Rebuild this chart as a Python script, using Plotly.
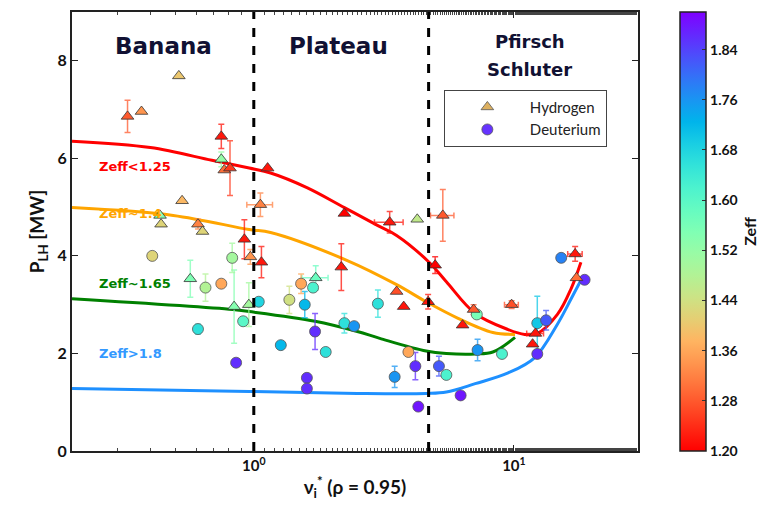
import math
import plotly.graph_objects as go

# ---------------- data ----------------
# Hydrogen (triangles): nu*, P_LH, Zeff, xerr, yerr
h_x = [0.515, 0.327, 0.37, 0.75, 0.75, 0.77, 0.81, 1.13, 0.53, 1.06, 0.436, 0.44, 0.61, 0.635, 0.92, 0.97, 1.07,
       0.57, 0.84, 0.957, 2.23, 3.33, 4.25, 5.33, 2.17, 3.54, 4.98, 3.77, 4.68, 6.35, 7.0, 9.8, 12.1, 11.8, 17.2,
       17.4, 1.73]
h_y = [7.69, 6.86, 6.96, 6.45, 5.98, 5.76, 5.80, 5.80, 5.13, 5.05, 4.83, 4.65, 4.65, 4.50, 4.34, 3.98, 3.87,
       3.53, 2.96, 3.00, 4.87, 4.69, 4.75, 4.83, 3.77, 3.27, 3.81, 2.96, 3.06, 2.58, 2.90, 3.00, 2.41, 2.19, 4.04,
       3.55, 3.55]
h_z = [1.40, 1.28, 1.34, 1.22, 1.52, 1.30, 1.25, 1.22, 1.38, 1.32, 1.54, 1.42, 1.32, 1.42, 1.22, 1.34, 1.22,
       1.55, 1.54, 1.50, 1.20, 1.22, 1.46, 1.28, 1.22, 1.27, 1.20, 1.22, 1.22, 1.22, 1.28, 1.27, 1.22, 1.22, 1.22,
       1.30, 1.58]
h_xerr = [0, 0, 0, 0, 0, 0, 0, 0, 0, 0.12, 0, 0, 0, 0, 0, 0, 0,
          0, 0, 0, 0, 0.42, 0, 0.55, 0, 0, 0, 0, 0, 0, 0, 0.6, 0.9, 0, 1.1,
          0, 0.2]
h_yerr = [0, 0.33, 0, 0.25, 0.15, 0, 0.56, 0, 0, 0.24, 0, 0, 0.1, 0, 0.4, 0.15, 0.32,
          0.38, 0.75, 0.45, 0, 0.22, 0, 0.53, 0.48, 0, 0.17, 0, 0.15, 0, 0.1, 0.08, 0, 0, 0.15,
          0, 0.25]

# Deuterium (circles)
d_x = [0.407, 0.826, 0.652, 0.75, 0.91, 0.61, 1.045, 0.855, 1.37, 1.57, 1.52, 1.69, 1.27, 1.72, 1.89, 1.60, 1.60,
       2.23, 2.43, 3.0, 3.93, 4.18, 3.48, 4.29, 5.15, 5.5, 7.25, 9.0, 6.24, 12.3, 13.3, 12.3, 15.2, 18.7, 7.2]
d_y = [4.00, 3.96, 3.35, 3.43, 2.66, 2.50, 3.06, 1.81, 3.10, 3.00, 3.43, 3.35, 2.17, 2.45, 2.03, 1.50, 1.28,
       2.62, 2.56, 3.02, 2.03, 1.74, 1.52, 0.91, 1.74, 1.56, 2.07, 1.99, 1.14, 2.62, 2.68, 1.99, 3.96, 3.51, 2.80]
d_z = [1.42, 1.50, 1.48, 1.36, 1.60, 1.66, 1.68, 1.86, 1.44, 1.72, 1.36, 1.62, 1.72, 1.86, 1.66, 1.86, 1.86,
       1.66, 1.76, 1.66, 1.36, 1.86, 1.76, 1.88, 1.82, 1.62, 1.76, 1.62, 1.88, 1.70, 1.82, 1.86, 1.78, 1.86, 1.56]
d_yerr = [0, 0.3, 0.28, 0, 0, 0.1, 0, 0, 0.28, 0.27, 0.2, 0, 0, 0.37, 0, 0, 0,
          0.2, 0, 0.28, 0, 0.28, 0.22, 0, 0.2, 0, 0.22, 0, 0, 0.55, 0.2, 0, 0, 0, 0]

# scaling-law fits
fit_red_x = [0.2, 0.4, 0.69, 0.96, 1.16, 1.6, 2.23, 3.0, 3.54, 4.72, 5.5, 7.1, 9.5, 11.0, 12.3, 14.7, 16.6, 18.1]
fit_red_y = [6.35, 6.22, 5.96, 5.80, 5.70, 5.40, 4.99, 4.62, 4.42, 3.87, 3.47, 2.82, 2.49, 2.39, 2.41, 2.80, 3.33, 3.87]
fit_org_x = [0.2, 0.49, 0.96, 1.16, 2.3, 3.54, 4.6, 6.1, 8.3, 10.1]
fit_org_y = [4.99, 4.83, 4.54, 4.48, 3.90, 3.41, 3.06, 2.72, 2.43, 2.39]
fit_grn_x = [0.2, 0.83, 0.96, 1.72, 2.5, 3.05, 4.6, 5.5, 7.1, 8.3, 10.1]
fit_grn_y = [3.12, 2.90, 2.86, 2.66, 2.45, 2.31, 2.05, 2.00, 1.99, 2.03, 2.33]
fit_blu_x = [0.2, 0.96, 2.5, 4.6, 5.5, 7.1, 9.5, 12.0, 14.7, 16.6, 18.1]
fit_blu_y = [1.28, 1.22, 1.18, 1.18, 1.21, 1.38, 1.60, 1.91, 2.60, 3.12, 3.50]
fit_labels = ["Zeff<1.25", "Zeff~1.4", "Zeff~1.65", "Zeff>1.8"]

regime_bounds = [1.0, 4.7]
regime_names = ["Banana", "Plateau", "Pfirsch", "Schluter"]
cb_ticks = [1.20, 1.28, 1.36, 1.44, 1.52, 1.60, 1.68, 1.76, 1.84]
ZMIN, ZMAX = 1.2, 1.9

# ---------------- colormap (matplotlib rainbow reversed) ----------------
def rainbow(t):
    r = min(1, max(0, abs(2 * t - 0.5)))
    g = min(1, max(0, math.sin(math.pi * t)))
    b = min(1, max(0, math.cos(math.pi * t / 2)))
    return r, g, b

def cmap(t):
    return rainbow(1 - t)

colorscale = []
for i in range(21):
    t = i / 20
    r, g, b = cmap(t)
    colorscale.append([t, f"rgb({int(r*255)},{int(g*255)},{int(b*255)})"])

def zcol(z, a=1.0):
    t = (z - ZMIN) / (ZMAX - ZMIN)
    t = min(1, max(0, t))
    r, g, b = cmap(t)
    return f"rgba({int(r*255)},{int(g*255)},{int(b*255)},{a})"

fig = go.Figure()

# fit lines
for fx, fy, c in [(fit_red_x, fit_red_y, "#ff0000"), (fit_org_x, fit_org_y, "#ffa500"),
                  (fit_grn_x, fit_grn_y, "#008000"), (fit_blu_x, fit_blu_y, "#1e90ff")]:
    fig.add_trace(go.Scatter(x=fx, y=fy, mode="lines", line=dict(color=c, width=3, shape="spline"),
                             showlegend=False, hoverinfo="skip"))

# error bars (per point, colored by Zeff)
for x, y, z, xe, ye in zip(h_x, h_y, h_z, h_xerr, h_yerr):
    if xe == 0 and ye == 0:
        continue
    fig.add_trace(go.Scatter(
        x=[x], y=[y], mode="markers", marker=dict(size=1, color="rgba(0,0,0,0)"),
        error_x=dict(type="constant", value=xe, visible=xe > 0, color=zcol(z, 0.75), thickness=1.5, width=3),
        error_y=dict(type="constant", value=ye, visible=ye > 0, color=zcol(z, 0.75), thickness=1.5, width=3),
        showlegend=False, hoverinfo="skip"))
for x, y, z, ye in zip(d_x, d_y, d_z, d_yerr):
    if ye == 0:
        continue
    fig.add_trace(go.Scatter(
        x=[x], y=[y], mode="markers", marker=dict(size=1, color="rgba(0,0,0,0)"),
        error_y=dict(type="constant", value=ye, color=zcol(z, 0.75), thickness=1.5, width=3),
        showlegend=False, hoverinfo="skip"))

# markers
fig.add_trace(go.Scatter(
    x=d_x, y=d_y, mode="markers", showlegend=False,
    marker=dict(symbol="circle", size=11, color=d_z, colorscale=colorscale, cmin=ZMIN, cmax=ZMAX,
                line=dict(color="#555555", width=0.8), showscale=False)))
fig.add_trace(go.Scatter(
    x=h_x, y=h_y, mode="markers", showlegend=False,
    marker=dict(symbol="triangle-up", size=11, color=h_z, colorscale=colorscale, cmin=ZMIN, cmax=ZMAX,
                line=dict(color="#333333", width=0.8), showscale=True,
                colorbar=dict(x=1.057, xanchor="left", y=0.5, yanchor="middle", len=1.0, lenmode="fraction",
                              ypad=0, thickness=26, outlinecolor="#222", outlinewidth=1.5,
                              tickvals=cb_ticks, ticktext=[f"{v:.2f}" for v in cb_ticks],
                              ticks="inside", ticklen=4, tickcolor="#333",
                              tickfont=dict(size=14, family="Lato", color="#111", weight="bold"),
                              title=dict(text="Zeff", side="right",
                                         font=dict(size=16, family="Lato", color="#111", weight="bold"))))))

# legend dummies
fig.add_trace(go.Scatter(x=[None], y=[None], mode="markers", name="Hydrogen",
                         marker=dict(symbol="triangle-up", size=11, color="#ddb060", line=dict(color="#555", width=0.8))))
fig.add_trace(go.Scatter(x=[None], y=[None], mode="markers", name="Deuterium",
                         marker=dict(symbol="circle", size=11, color="#6633ff", line=dict(color="#555", width=0.8))))

# regime boundaries
for b in regime_bounds:
    fig.add_shape(type="line", xref="x", yref="paper", x0=b, x1=b, y0=0, y1=1,
                  line=dict(color="black", width=3, dash="dash"))

# regime labels
for txt, xx, yy, sz in [(regime_names[0], 0.162, 0.923, 23), (regime_names[1], 0.471, 0.923, 23),
                        (regime_names[2], 0.809, 0.932, 18), (regime_names[3], 0.809, 0.868, 18)]:
    fig.add_annotation(text="<b>" + txt + "</b>", xref="paper", yref="paper", x=xx, y=yy,
                       xanchor="center", yanchor="middle",
                       showarrow=False, font=dict(size=sz, family="DejaVu Sans", color="#111133"))

# fit labels
for lab, c, yy in zip(fit_labels, ["#ff0000", "#ffa500", "#008000", "#3399ff"], [0.649, 0.542, 0.381, 0.222]):
    fig.add_annotation(text="<b>" + lab + "</b>", xref="paper", yref="paper", x=0.045, y=yy,
                       xanchor="left", yanchor="middle",
                       showarrow=False, font=dict(size=13, family="DejaVu Sans", color=c))

fig.update_layout(
    width=764, height=507, margin=dict(l=64, r=125, t=2, b=64),
    plot_bgcolor="white", paper_bgcolor="white",
    font=dict(family="Lato", color="#111"),
    legend=dict(x=0.657, y=0.823, xanchor="left", yanchor="top", bordercolor="#444", borderwidth=1,
                bgcolor="white", itemwidth=75, font=dict(size=15, family="Lato", color="#222")),
    xaxis=dict(type="log", range=[math.log10(0.2), math.log10(30)], showline=True, linecolor="#222",
               linewidth=2, mirror="ticks", ticks="inside", ticklen=6, tickcolor="#222",
               tickvals=[1, 10], ticktext=["10<sup>0</sup>", "10<sup>1</sup>"], showgrid=False, zeroline=False,
               tickfont=dict(size=15, family="Lato", weight="bold"),
               minor=dict(ticks="inside", ticklen=3, tickcolor="#444", showgrid=False),
               title=dict(text="<b>ν<sub>i</sub><sup>*</sup> (ρ = 0.95)</b>", font=dict(size=19, family="Lato"),
                          standoff=8)),
    yaxis=dict(range=[0, 9], showline=True, linecolor="#222", linewidth=2, mirror="ticks", ticks="inside",
               ticklen=6, tickcolor="#222", tickvals=[0, 2, 4, 6, 8], showgrid=False, zeroline=False,
               tickfont=dict(size=16, family="Lato", weight="bold"),
               title=dict(text="<b>P<sub>LH</sub> [MW]</b>", font=dict(size=19, family="Lato"), standoff=8)),
)

fig.write_html("out.html")
